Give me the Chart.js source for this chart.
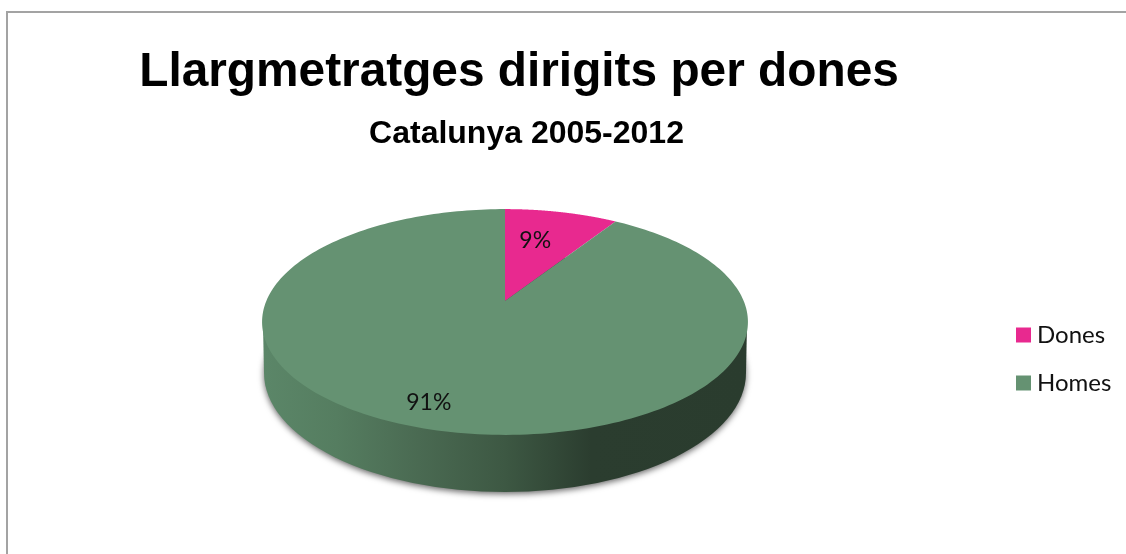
<!DOCTYPE html>
<html lang="ca">
<head>
<meta charset="utf-8">
<title>Llargmetratges dirigits per dones</title>
<script src="https://cdn.jsdelivr.net/npm/chart.js@4"></script>
<style>
html, body { margin: 0; padding: 0; background: #fff; }
canvas { display: block; filter: blur(0.45px); }
</style>
</head>
<body>
<canvas id="pieChart" width="1126" height="554"></canvas>
<script>
// ── DADES ─────────────────────────────────────────────
const categories = ['Dones', 'Homes'];
const seriesValues = [9, 91];
const sliceColors = ['#E8298F', '#659272'];

// ── GEOMETRIA DEL PASTIS 3D ───────────────────────────
// the top face is a circle seen in perspective, so the apex sits above the ellipse centre
const apex = { x: 505, y: 301 }, persp = { a: 238.7, b: 109, k: 0.186 };
const labelSpots = [{ r: 0.62, dx: -7, dy: -2 }, { r: 0.8, dx: -14, dy: 4 }];

function project(angle, r) {
    const phi = angle + Math.PI / 2, u = r * Math.sin(phi), v = r * Math.cos(phi), w = 1 + persp.k * v;
    return { x: apex.x + persp.a * u / w, y: apex.y - persp.b * v / w };
}

const pie3d = {
    id: 'pie3d',
    beforeDraw(chart) {
        const { ctx, width, height } = chart;
        ctx.save();
        ctx.fillStyle = '#fff'; ctx.fillRect(0, 0, width, height);
        ctx.strokeStyle = '#A3A3A3'; ctx.lineWidth = 2;
        ctx.beginPath(); ctx.moveTo(7, height); ctx.lineTo(7, 12); ctx.lineTo(width, 12); ctx.stroke();
        ctx.restore();
    },
    afterLayout(chart) {
        chart.boxes.forEach(b => {
            if (b.options.text === 'Llargmetratges dirigits per dones') { b.left = 0; b.right = 1038; }
            else if (b.options.text === 'Catalunya 2005-2012') { b.left = 0; b.right = 1053; }
            else if (b === chart.legend) { b.left = 998; b.top = 299; }
        });
    },
    beforeDatasetsDraw(chart) {
        const { ctx } = chart, arcs = chart.getDatasetMeta(0).data;
        ctx.save();

        // side wall + soft shadow
        const wall = ctx.createLinearGradient(265, 0, 745, 0);
        wall.addColorStop(0, '#5B8668');
        wall.addColorStop(0.15, '#557D60');
        wall.addColorStop(0.32, '#4A6A52');
        wall.addColorStop(0.5, '#3D5843');
        wall.addColorStop(0.68, '#2B3D2F');
        wall.addColorStop(1, '#2A3C2E');
        ctx.save();
        ctx.shadowColor = 'rgba(0,0,0,0.6)'; ctx.shadowBlur = 6; ctx.shadowOffsetX = 0; ctx.shadowOffsetY = 2;
        ctx.fillStyle = wall;
        ctx.beginPath(); ctx.ellipse(505, 373, 241, 119, 0, 0, Math.PI * 2); ctx.fill();
        ctx.restore();
        ctx.fillStyle = wall;
        ctx.beginPath(); ctx.moveTo(263, 325); ctx.lineTo(264, 373); ctx.lineTo(746, 373); ctx.lineTo(747, 325); ctx.closePath(); ctx.fill();

        // top face, one path per arc of the library
        arcs.forEach((arc, i) => {
            ctx.fillStyle = sliceColors[i];
            ctx.beginPath(); ctx.moveTo(apex.x, apex.y);
            for (let s = 0; s <= 240; s++) {
                const p = project(arc.startAngle + (arc.endAngle - arc.startAngle) * s / 240, 1);
                ctx.lineTo(p.x, p.y);
            }
            ctx.closePath(); ctx.fill();
        });

        // percentages
        const total = seriesValues.reduce((a, b) => a + b, 0);
        ctx.fillStyle = '#111'; ctx.font = '23px Lato'; ctx.textAlign = 'center'; ctx.textBaseline = 'middle';
        arcs.forEach((arc, i) => {
            const spot = labelSpots[i], p = project((arc.startAngle + arc.endAngle) / 2, spot.r);
            ctx.fillText(Math.round(seriesValues[i] / total * 100) + '%', p.x + spot.dx, p.y + spot.dy);
        });
        ctx.restore();
        return false;
    }
};

// ── CHART ─────────────────────────────────────────────
new Chart(document.getElementById('pieChart'), {
    type: 'pie',
    data: { labels: categories, datasets: [{ data: seriesValues, backgroundColor: sliceColors, borderWidth: 0 }] },
    options: {
        responsive: false,
        animation: false,
        events: [],
        plugins: {
            title: { display: true, text: 'Llargmetratges dirigits per dones', color: '#000', font: { family: 'Liberation Sans', size: 47.8, weight: 'bold' }, padding: { top: 44, bottom: 0 } },
            subtitle: { display: true, text: 'Catalunya 2005-2012', color: '#000', font: { family: 'Liberation Sans', size: 32, weight: 'bold' }, padding: { top: 14, bottom: 0 } },
            legend: {
                position: 'right', align: 'start',
                labels: { usePointStyle: true, pointStyle: 'rect', boxWidth: 3, boxHeight: 15, padding: 24, color: '#111', font: { family: 'Lato', size: 24 } }
            },
            tooltip: { enabled: false }
        }
    },
    plugins: [pie3d]
});
</script>
</body>
</html>
